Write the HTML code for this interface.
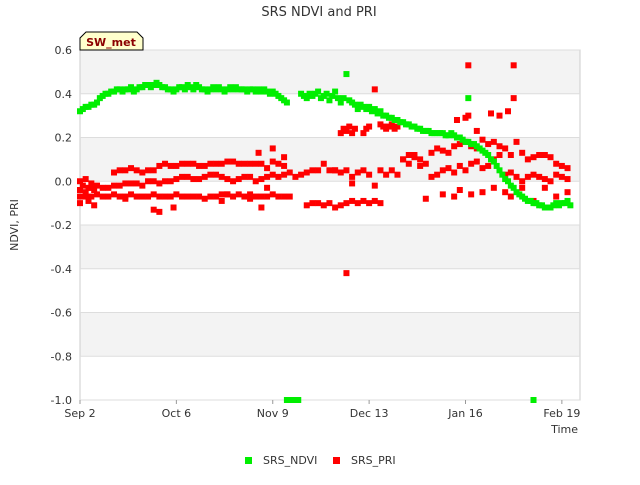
<!DOCTYPE html>
<html><head><meta charset="utf-8"><style>
body{margin:0;background:#fff;font-family:"Liberation Sans","DejaVu Sans",sans-serif;}
svg text{font-family:"DejaVu Sans","Liberation Sans",sans-serif;}
</style></head><body>
<svg id="chart" width="640" height="480" xmlns="http://www.w3.org/2000/svg">
<text x="319" y="16" text-anchor="middle" font-size="13" fill="#333">SRS NDVI and PRI</text>
<g id="bands"></g>
<rect x="80" y="50" width="500" height="350" fill="none" stroke="#ccc"/>
<g id="yticks"></g><g id="xticks"></g>
<g id="marks"></g>
<g>
<path d="M80,50 L80,38 L86,32 L137,32 L143,38 L143,50 Z" fill="#ffffcc" stroke="#000"/>
<text x="111" y="46" text-anchor="middle" font-size="11" font-weight="bold" fill="#8b0000">SW_met</text>
</g>
<text x="18" y="225" transform="rotate(-90 18 225)" text-anchor="middle" font-size="11" fill="#333">NDVI, PRI</text>
<text x="578" y="433" text-anchor="end" font-size="11" fill="#333">Time</text>
<g><rect x="245" y="457" width="7" height="7" fill="#00ee00"/><text x="263" y="464" font-size="11" fill="#333">SRS_NDVI</text></g>
<g><rect x="333" y="457" width="7" height="7" fill="#ff0000"/><text x="351" y="464" font-size="11" fill="#333">SRS_PRI</text></g>
</svg>
<script>
const yTicks=[0.6,0.4,0.2,0.0,-0.2,-0.4,-0.6,-0.8,-1.0];
const xTickDays=[0,34,68,102,136,170];
const xTickLabels=["Sep 2","Oct 6","Nov 9","Dec 13","Jan 16","Feb 19"];
const ndviDays=[0,1,2,3,4,5,6,7,8,9,10,11,12,13,14,15,16,17,18,19,20,21,22,23,24,25,26,27,28,29,30,31,32,33,34,35,36,37,38,39,40,41,42,43,44,45,46,47,48,49,50,51,52,53,54,55,56,57,58,59,60,61,62,63,64,65,66,67,68,69,70,71,72,73,78,79,80,81,82,83,84,85,86,87,88,89,90,91,92,93,94,95,96,97,98,99,100,101,102,103,104,105,106,107,108,109,110,111,112,113,114,115,116,117,118,119,120,121,122,123,124,125,126,127,128,129,130,131,132,133,134,135,136,137,137,138,139,140,141,142,143,144,145,146,147,148,149,150,151,152,153,154,155,156,157,158,159,160,161,162,163,164,165,166,167,168,169,170,171,172,173,73,74,75,76,77,160];
const ndviVals=[.32,.33,.34,.34,.35,.35,.36,.38,.39,.40,.40,.41,.41,.42,.42,.41,.42,.42,.43,.41,.42,.43,.43,.44,.44,.43,.44,.45,.44,.43,.43,.42,.42,.41,.42,.43,.43,.42,.44,.43,.42,.44,.43,.42,.42,.41,.42,.43,.42,.43,.42,.41,.42,.43,.42,.43,.42,.42,.42,.41,.42,.42,.41,.42,.41,.42,.41,.40,.41,.40,.39,.38,.37,.36,.40,.39,.38,.40,.39,.40,.41,.38,.39,.40,.37,.39,.41,.38,.36,.38,.49,.37,.36,.35,.33,.35,.34,.33,.34,.32,.33,.31,.32,.30,.30,.29,.29,.28,.28,.27,.27,.26,.26,.25,.25,.24,.24,.23,.23,.23,.22,.22,.22,.22,.22,.21,.21,.22,.21,.20,.20,.19,.18,.18,.38,.17,.17,.16,.15,.14,.13,.12,.10,.09,.07,.05,.03,.01,0,-.02,-.03,-.05,-.06,-.07,-.08,-.09,-.09,-.10,-.10,-.11,-.11,-.12,-.12,-.12,-.11,-.10,-.11,-.10,-.10,-.09,-.11,-1,-1,-1,-1,-1,-1];
const priDays=[0,2,4,6,8,10,12,14,16,18,20,22,24,26,28,30,32,34,36,38,40,42,44,46,48,50,52,54,56,58,60,62,64,66,68,70,72,74,
0,1,2,3,4,5,6,8,10,12,14,16,18,20,22,24,26,28,30,32,34,36,38,40,42,44,46,48,50,52,54,56,58,60,62,64,66,68,70,72,74,76,
0,2,4,12,14,16,18,20,22,24,26,28,30,32,34,36,38,40,42,44,46,48,50,52,54,56,58,60,62,64,66,68,70,72,
0,3,5,16,26,28,33,50,52,60,63,64,66,68,72,
80,82,84,86,88,90,92,94,96,98,100,102,104,106,
78,80,82,84,86,88,90,92,94,96,98,100,102,104,106,108,110,112,114,116,118,120,
92,93,94,95,96,97,100,101,102,104,106,107,108,109,110,111,112,
94,90,96,
114,116,118,120,122,124,126,128,130,132,134,136,138,140,142,144,146,148,150,152,154,156,158,160,162,164,166,168,170,172,
124,126,128,130,132,134,136,138,140,142,144,146,148,150,152,154,156,158,160,162,164,166,168,170,172,
122,128,132,134,138,142,146,150,152,156,160,164,168,172,
137,153,137,153,133,145,148,151,136,140];
const priVals=[-.07,-.07,-.07,-.06,-.07,-.07,-.06,-.07,-.07,-.06,-.07,-.07,-.07,-.06,-.07,-.07,-.07,-.06,-.07,-.07,-.07,-.07,-.08,-.07,-.07,-.06,-.06,-.07,-.06,-.07,-.06,-.07,-.07,-.07,-.06,-.07,-.07,-.07,
-.04,-.02,-.05,-.03,-.03,-.04,-.02,-.03,-.03,-.02,-.02,-.01,-.01,-.01,-.02,0,0,-.01,0,0,.01,.02,.02,.01,.01,.02,.03,.03,.02,.01,0,.01,.02,.02,.0,.01,.02,.03,.02,.03,.04,.02,
0,.01,-.01,.04,.05,.05,.06,.05,.04,.05,.05,.07,.08,.07,.07,.08,.08,.08,.07,.07,.08,.08,.08,.09,.09,.08,.08,.08,.08,.08,.06,.09,.08,.07,
-.10,-.09,-.11,-.08,-.13,-.14,-.12,-.09,-.06,-.08,.13,-.12,-.03,.15,.11,
-.11,-.10,-.10,-.11,-.10,-.12,-.11,-.10,-.09,-.10,-.09,-.10,-.09,-.10,
.03,.04,.05,.05,.08,.05,.05,.04,.05,.02,.04,.05,.03,-.02,.05,.03,.05,.03,.10,.08,.12,.07,
.22,.24,.23,.25,.22,.24,.22,.24,.25,.42,.26,.25,.24,.25,.26,.24,.25,
-.42,.05,-.01,
.10,.12,.11,.10,.08,.13,.15,.14,.13,.16,.17,.18,.16,.15,.19,.17,.18,.16,.15,.12,.18,.13,.10,.11,.12,.12,.11,.08,.07,.06,
.02,.03,.05,.06,.04,.07,.05,.08,.09,.06,.07,.10,.12,.03,.04,.02,.00,.02,.03,.02,.01,.00,.03,.02,.01,
-.08,-.06,-.07,-.04,-.06,-.05,-.03,-.05,-.07,-.03,-.09,-.03,-.07,-.05,
.53,.53,.30,.38,.28,.31,.30,.32,.29,.23];
const X0=80,X1=580,DMAX=176.4,Y0=50,Y1=400;
function xs(d){return X0+d/DMAX*(X1-X0);}
function ys(v){return Y0+(0.6-v)/1.6*(Y1-Y0);}
const NS="http://www.w3.org/2000/svg";
function mk(t,a,p){const e=document.createElementNS(NS,t);for(const k in a)e.setAttribute(k,a[k]);p.appendChild(e);return e;}
const bands=document.getElementById('bands');
for(let i=0;i<yTicks.length-1;i+=2){
 const r=mk('rect',{x:X0,y:ys(yTicks[i]),width:X1-X0,height:ys(yTicks[i+1])-ys(yTicks[i]),fill:'#f3f3f3'},bands);
 
 
}
const yt=document.getElementById('yticks');
yTicks.forEach(v=>{
 const l=mk('line',{x1:X0,x2:X1,y1:ys(v),y2:ys(v),stroke:'#ddd'},yt);
 
 
 const t=mk('text',{x:72,y:ys(v)+4,'text-anchor':'end','font-size':'11',fill:'#333'},yt);
 t.textContent=v.toFixed(1);
 
 
});
const xt=document.getElementById('xticks');
xTickDays.forEach((d,i)=>{
 mk('line',{x1:xs(d),x2:xs(d),y1:Y1,y2:Y1+4,stroke:'#999'},xt);
 const t=mk('text',{x:xs(d),y:Y1+17,'text-anchor':'middle','font-size':'11',fill:'#333'},xt);
 t.textContent=xTickLabels[i];
 
 
});
const g=document.getElementById('marks');
priDays.forEach((d,i)=>{
 const r=mk('rect',{x:xs(d)-3,y:ys(priVals[i])-3,width:6,height:6,fill:'#ff0000'},g);
 
 
});
ndviDays.forEach((d,i)=>{
 const r=mk('rect',{x:xs(d)-3,y:ys(ndviVals[i])-3,width:6,height:6,fill:'#00ee00'},g);
 
 
});
</script>
</body></html>
